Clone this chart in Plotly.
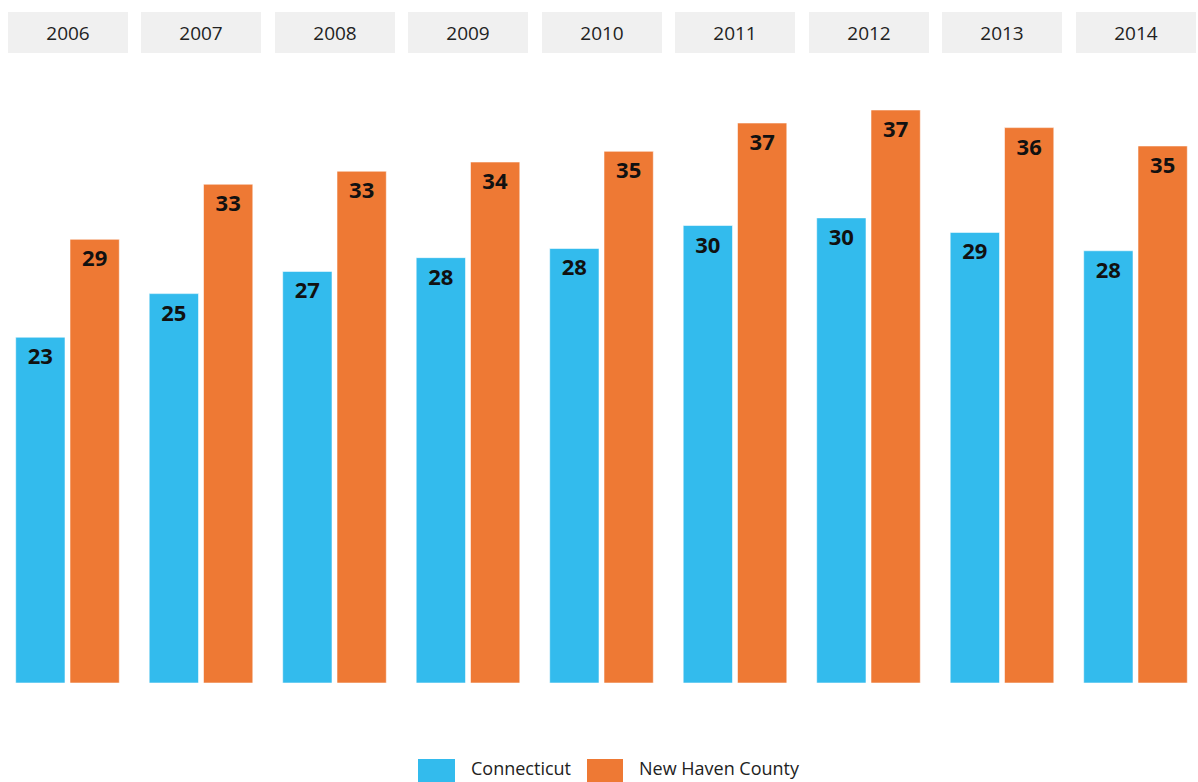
import plotly.graph_objects as go

# Share of residents (%) by year
years = [2006, 2007, 2008, 2009, 2010, 2011, 2012, 2013, 2014]
connecticut = [22.6, 25.45, 26.9, 27.8, 28.4, 29.9, 30.4, 29.45, 28.25]
new_haven_county = [29.0, 32.6, 33.45, 34.05, 34.75, 36.6, 37.45, 36.3, 35.1]

series_names = ["Connecticut", "New Haven County"]
series_colors = ["#33bbed", "#ee7934"]

W, H = 1198, 782
M_L, M_R, M_T, M_B = 0, 0, 60, 99
plot_h = H - M_T - M_B
px_per_unit = 15.3
y_max = plot_h / px_per_unit

# one "panel" per year, 133.5 px apart, first centred at 67.5 px
pitch = 133.5
first_center = 67.5
x_lo = years[0] - first_center / pitch
x_hi = years[0] + (W - first_center) / pitch

fig = go.Figure()
for name, vals, col in zip(series_names, [connecticut, new_haven_county], series_colors):
    fig.add_trace(go.Bar(
        x=years, y=vals, name=name,
        marker=dict(color=col, line=dict(color="rgba(255,255,255,0.55)", width=1)),
        texttemplate="%{y:.0f}", textposition="inside", insidetextanchor="end",
        textangle=0,
        textfont=dict(family="Open Sans, Noto Sans, sans-serif", size=22, color="#111111", weight="bold"),
        hoverinfo="skip",
    ))

annotations = []
# year headers
header_center_py = 32.5
for yr in years:
    annotations.append(dict(
        x=yr, xref="x", y=(H - M_B - header_center_py) / plot_h, yref="paper",
        text=str(yr), showarrow=False, xanchor="center", yanchor="middle",
        width=120, height=41, bgcolor="#f0f0f0", borderpad=0, borderwidth=0,
        font=dict(family="Open Sans, Noto Sans, sans-serif", size=19, color="#222222"),
    ))

# legend drawn as swatches with labels
shapes = []
legend_items = [
    (418, 455, 469, series_names[0], series_colors[0]),
    (587, 623, 637, series_names[1], series_colors[1]),
]
def py_to_paper(py):
    return (H - M_B - py) / plot_h

for x0, x1, tx, name, col in legend_items:
    shapes.append(dict(
        type="rect", xref="paper", yref="paper",
        x0=x0 / W, x1=x1 / W, y0=py_to_paper(759), y1=py_to_paper(800),
        fillcolor=col, line=dict(width=0),
    ))
    annotations.append(dict(
        x=tx / W, xref="paper", y=py_to_paper(768), yref="paper",
        text=name, showarrow=False, xanchor="left", yanchor="middle",
        font=dict(family="Open Sans, Noto Sans, sans-serif", size=18, color="#222222"),
    ))

fig.update_layout(
    width=W, height=H,
    margin=dict(l=M_L, r=M_R, t=M_T, b=M_B),
    paper_bgcolor="white", plot_bgcolor="white",
    barmode="group", bargap=0.1865, bargroupgap=0.092,
    showlegend=False,
    xaxis=dict(range=[x_lo, x_hi], visible=False, fixedrange=True),
    yaxis=dict(range=[0, y_max], visible=False, fixedrange=True),
    annotations=annotations, shapes=shapes,
    uniformtext=dict(mode=False),
)

fig.write_html("out.html", include_plotlyjs=True, config={"displayModeBar": False})
